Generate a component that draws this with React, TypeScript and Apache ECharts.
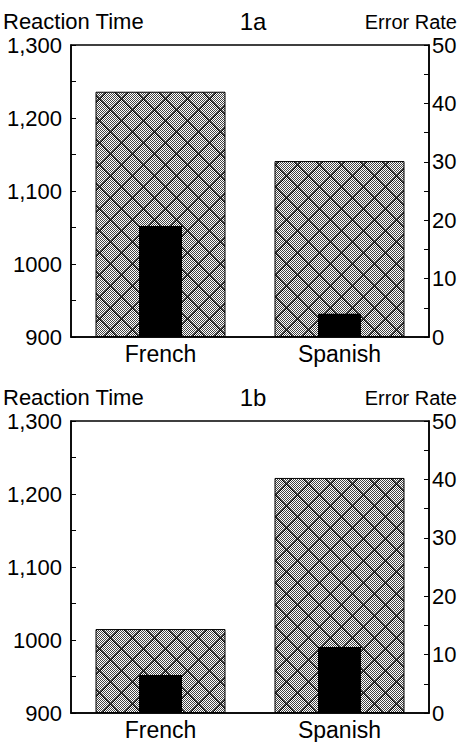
import React, { useEffect, useRef } from 'react';
import * as echarts from 'echarts';

const languages = ['French', 'Spanish'];
const reactionTime1a = [1236, 1141];
const errorRate1a = [19, 4];
const reactionTime1b = [1015, 1222];
const errorRate1b = [6.5, 11.3];
const rtTicks = [900, 1000, 1100, 1200, 1300];
const rtTickLabels = ['900', '1000', '1,100', '1,200', '1,300'];
const erTicks = [0, 10, 20, 30, 40, 50];
const erTickLabels = ['0', '10', '20', '30', '40', '50'];
const panelTitles = ['1a', '1b'];
const leftAxisName = 'Reaction Time';
const rightAxisName = 'Error Rate';

const FONT = '"Liberation Sans", Arial, Helvetica, sans-serif';

function makeHatch(): HTMLCanvasElement {
  const s = 22;
  const c = document.createElement('canvas');
  c.width = s;
  c.height = s;
  const ctx = c.getContext('2d')!;
  ctx.fillStyle = '#ffffff';
  ctx.fillRect(0, 0, s, s);
  ctx.fillStyle = '#444444';
  for (let y = 0; y < s; y++) for (let x = 0; x < s; x++) if ((x + y) % 2 === 0) ctx.fillRect(x, y, 1, 1);
  for (let i = 0; i < s; i++) {
    ctx.fillStyle = '#000000';
    ctx.fillRect(i, i, 1, 1);
    ctx.fillRect((s - i) % s, i, 1, 1);
    ctx.fillStyle = '#555555';
    ctx.fillRect((i + 1) % s, i, 1, 1);
    ctx.fillRect(s - 1 - i, i, 1, 1);
  }
  return c;
}

export default function App() {
  const ref = useRef<HTMLDivElement>(null);
  useEffect(() => {
    if (!ref.current) return;
    const chart = echarts.init(ref.current, undefined, { renderer: 'svg' });
    const hatch = makeHatch();
    const pattern: any = { image: hatch, repeat: 'repeat', imageWidth: 22, imageHeight: 22 };
    const tops = [45, 421];
    const rts = [reactionTime1a, reactionTime1b];
    const ers = [errorRate1a, errorRate1b];
    const axisLine = { show: true, lineStyle: { color: '#000', width: 1.5 } };
    const grid = tops.map((top) => ({
      left: 71, right: 31, top, height: 292, show: true,
      borderColor: '#000', borderWidth: 1.5, backgroundColor: 'transparent',
    }));
    const xAxis: any[] = [];
    const yAxis: any[] = [];
    const series: any[] = [];
    const graphic: any[] = [];
    tops.forEach((top, g) => {
      xAxis.push({
        type: 'category', gridIndex: g, data: languages,
        axisLine, axisTick: { show: false },
        axisLabel: { color: '#000', fontSize: 23, lineHeight: 18, fontFamily: FONT, margin: 8 },
      });
      xAxis.push({ type: 'category', gridIndex: g, data: languages, show: false });
      yAxis.push({
        type: 'value', gridIndex: g, position: 'left', min: 900, max: 1300, interval: 50, startValue: 900,
        axisLine, splitLine: { show: false },
        axisTick: { show: true, inside: true, length: 5, lineStyle: { color: '#000', width: 1 } },
        axisLabel: {
          color: '#000', fontSize: 22, lineHeight: 16, fontFamily: FONT, margin: 9, interval: 0,
          formatter: (v: number) => { const i = rtTicks.indexOf(v); return i >= 0 ? rtTickLabels[i] : ''; },
        },
      });
      yAxis.push({
        type: 'value', gridIndex: g, position: 'right', min: 0, max: 50, interval: 5,
        axisLine, splitLine: { show: false },
        axisTick: { show: true, inside: true, length: 5, lineStyle: { color: '#000', width: 1 } },
        axisLabel: {
          color: '#000', fontSize: 22, lineHeight: 16, fontFamily: FONT, margin: 3, interval: 0,
          formatter: (v: number) => { const i = erTicks.indexOf(v); return i >= 0 ? erTickLabels[i] : ''; },
        },
      });
      series.push({
        type: 'bar', xAxisIndex: 2 * g, yAxisIndex: 2 * g, data: rts[g], barWidth: 130,
        itemStyle: { color: pattern, borderColor: '#000', borderWidth: 1 }, z: 2,
      });
      series.push({
        type: 'bar', xAxisIndex: 2 * g + 1, yAxisIndex: 2 * g + 1, data: ers[g], barWidth: 43,
        itemStyle: { color: '#000' }, z: 3,
      });
      graphic.push(
        { type: 'text', x: 3, y: top - 24, style: { text: leftAxisName, fontSize: 22, lineHeight: 16, fontFamily: FONT, fill: '#000', align: 'left', verticalAlign: 'middle' } },
        { type: 'text', x: 253, y: top - 24, style: { text: panelTitles[g], fontSize: 24, lineHeight: 18, fontFamily: FONT, fill: '#000', align: 'center', verticalAlign: 'middle' } },
        { type: 'text', x: 457, y: top - 23, style: { text: rightAxisName, fontSize: 20, lineHeight: 15, fontFamily: FONT, fill: '#000', align: 'right', verticalAlign: 'middle' } },
      );
    });
    chart.setOption({
      animation: false,
      backgroundColor: '#fff',
      grid, xAxis, yAxis, series, graphic,
    });
    return () => chart.dispose();
  }, []);
  return <div ref={ref} style={{ position: 'absolute', left: 0, top: 0, width: 460, height: 742 }} />;
}
